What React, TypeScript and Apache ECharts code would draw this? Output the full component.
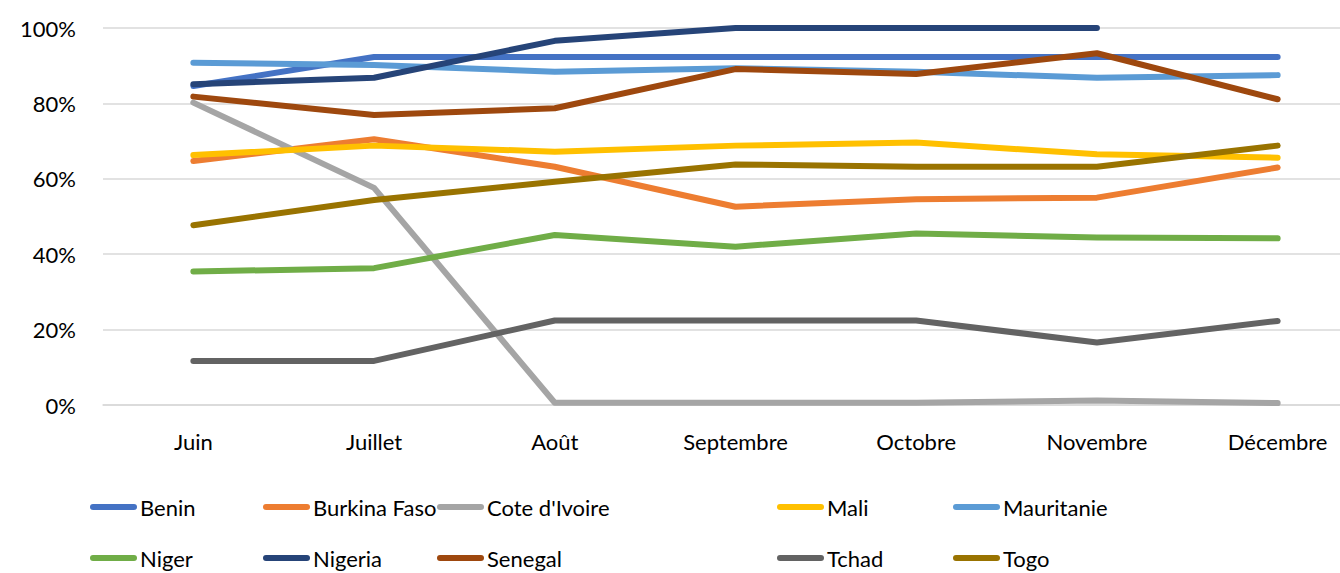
import React, { useEffect, useRef } from "react";
import * as echarts from "echarts";

const months = ["Juin", "Juillet", "Août", "Septembre", "Octobre", "Novembre", "Décembre"];

const benin = [84.6, 92.3, 92.3, 92.3, 92.3, 92.3, 92.3];
const burkinaFaso = [64.7, 70.5, 63.2, 52.6, 54.6, 55.0, 63.0];
const coteDIvoire = [80.2, 57.6, 0.6, 0.6, 0.6, 1.2, 0.5];
const mali = [66.3, 68.8, 67.2, 68.8, 69.6, 66.5, 65.6];
const mauritanie = [90.8, 90.2, 88.4, 89.3, 88.4, 86.8, 87.5];
const niger = [35.4, 36.3, 45.1, 42.0, 45.5, 44.4, 44.2];
const nigeria = [85.1, 86.8, 96.6, 100, 100, 100, null];
const senegal = [81.8, 76.9, 78.7, 89.1, 87.8, 93.3, 81.1];
const tchad = [11.7, 11.7, 22.4, 22.4, 22.4, 16.6, 22.3];
const togo = [47.7, 54.4, 59.2, 63.8, 63.2, 63.2, 68.8];

const seriesNames = ["Benin", "Burkina Faso", "Cote d'Ivoire", "Mali", "Mauritanie", "Niger", "Nigeria", "Senegal", "Tchad", "Togo"];
const seriesData = [benin, burkinaFaso, coteDIvoire, mali, mauritanie, niger, nigeria, senegal, tchad, togo];
const colors = ["#4472C4", "#ED7D31", "#A5A5A5", "#FFC000", "#5B9BD5", "#70AD47", "#264478", "#9E480E", "#636363", "#997300"];

const yTicks = [0, 20, 40, 60, 80, 100];

const FONT = "Lato";

export default function App() {
  const ref = useRef<HTMLDivElement>(null);
  useEffect(() => {
    if (!ref.current) return;
    const chart = echarts.init(ref.current, null, { renderer: "svg" });
    const legendCols = [90, 263, 437, 777, 953];
    const legendRows = [494, 545];
    const icon = "path://M3,0 H44 A3,3 0 0 1 44,6 H3 A3,3 0 0 1 3,0 Z";
    const legends = seriesNames.map((name, i) => ({
      orient: "horizontal",
      left: legendCols[i % 5],
      top: legendRows[Math.floor(i / 5)],
      padding: 0,
      itemWidth: 47,
      itemHeight: 6,
      icon,
      data: [name],
      textStyle: { fontFamily: FONT, fontSize: 22, color: "#000", lineHeight: 26, padding: [0, 0, 0, -2] },
    }));
    chart.setOption({
      animation: false,
      color: colors,
      grid: { left: 103, top: 28, right: 0, bottom: 168, containLabel: false },
      legend: legends,
      xAxis: {
        type: "category",
        data: months,
        boundaryGap: true,
        axisLine: { show: true, lineStyle: { color: "#D9D9D9", width: 1.5 } },
        axisTick: { show: false },
        axisLabel: { fontFamily: FONT, fontSize: 22, color: "#000", margin: 25 },
      },
      yAxis: {
        type: "value",
        min: 0,
        max: 100,
        interval: 20,
        axisLine: { show: false },
        axisTick: { show: false },
        splitLine: { lineStyle: { color: "#D9D9D9", width: 1.5 } },
        axisLabel: {
          fontFamily: FONT,
          fontSize: 22,
          color: "#000",
          margin: 27,
          formatter: (v: number) => (yTicks.includes(v) ? v + "%" : ""),
        },
      },
      series: seriesNames.map((name, i) => ({
        name,
        type: "line",
        data: seriesData[i],
        showSymbol: false,
        symbol: "none",
        connectNulls: false,
        lineStyle: { width: 6, color: colors[i], cap: "round", join: "round" },
        itemStyle: { color: colors[i] },
      })),
    });
    return () => chart.dispose();
  }, []);
  return (
    <div style={{ position: "fixed", left: 0, top: 0, width: 1340, height: 573, overflow: "hidden", background: "#fff" }}>
      <div ref={ref} style={{ width: 1368, height: 573 }} />
    </div>
  );
}
